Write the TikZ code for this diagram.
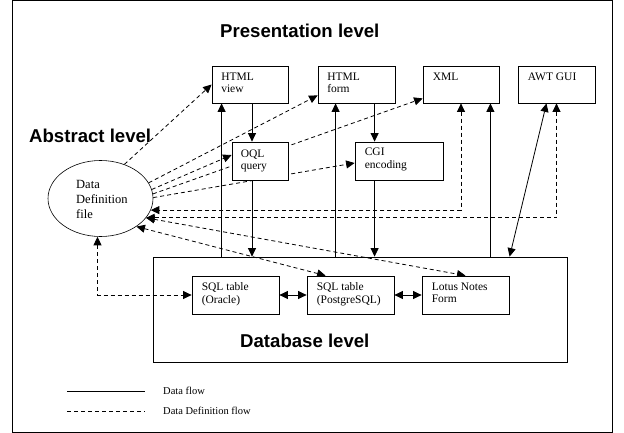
\documentclass[tikz,border=0pt]{standalone}
\usepackage{fontspec}
\setmainfont{Liberation Serif}
\newfontfamily\headfont{Liberation Sans}
\usetikzlibrary{arrows.meta,calc,shapes.geometric}
\pgfdeclarelayer{bg}
\pgfsetlayers{bg,main}
\tikzset{
  boxnode/.style={draw, fill=white, line width=0.8pt, inner sep=0pt},
  btxt/.style={anchor=north west, inner sep=0pt, align=left, font=\fontsize{11.5}{12.5}\selectfont},
  head/.style={anchor=base west, inner sep=0pt, font=\headfont\bfseries\fontsize{18.6}{20}\selectfont},
  conn/.style={line width=0.8pt},
  ddash/.style={line width=0.8pt, dash pattern=on 4pt off 3pt},
  arr/.style={-{Triangle[length=8.5pt,width=8pt]}},
  barr/.style={{Triangle[length=8.5pt,width=8pt]}-{Triangle[length=8.5pt,width=8pt]}},
}
\begin{document}
\begin{tikzpicture}[x=1pt,y=-1pt]
\useasboundingbox (0,0) rectangle (624,433);
\draw[line width=0.9pt] (12.5,0.5) rectangle (612,432);

% headings
\node[head] (hpres) at (220,38) {Presentation level};
\node[head] (habs) at (29,143) {Abstract level};
\node[head] (hdb) at (240,347) {Database level};

% boxes
\node[boxnode, minimum width=76pt, minimum height=37pt] (hv) at (250,84.5) {};
\node[boxnode, minimum width=77pt, minimum height=37pt] (hf) at (356.5,84.5) {};
\node[boxnode, minimum width=76pt, minimum height=37pt] (xml) at (461,84.5) {};
\node[boxnode, minimum width=77pt, minimum height=37pt] (awt) at (556.5,84.5) {};
\node[boxnode, minimum width=56pt, minimum height=38pt] (oql) at (260,161) {};
\node[boxnode, minimum width=88pt, minimum height=38pt] (cgi) at (399,161) {};
\node[draw, line width=0.8pt, inner sep=0pt, minimum width=414pt, minimum height=105pt] (db) at (360,309.5) {};
\node[boxnode, minimum width=87pt, minimum height=38pt] (or) at (235.5,295) {};
\node[boxnode, minimum width=87pt, minimum height=38pt] (pg) at (350.5,295) {};
\node[boxnode, minimum width=87pt, minimum height=38pt] (lo) at (465.5,295) {};
\node[draw, fill=white, ellipse, line width=0.6pt, inner sep=0pt, minimum width=105pt, minimum height=76pt] (dd) at (100.5,198.5) {};

% texts
\node[btxt] (thv) at ($(hv.north west)+(9.5,7)$) {HTML\\view};
\node[btxt] (thf) at ($(hf.north west)+(9.5,7)$) {HTML\\form};
\node[btxt] (txml) at ($(xml.north west)+(10,7)$) {XML};
\node[btxt] (tawt) at ($(awt.north west)+(10,7)$) {AWT GUI};
\node[btxt] (toql) at ($(oql.north west)+(9,8)$) {OQL\\query};
\node[btxt] (tcgi) at ($(cgi.north west)+(10,6.5)$) {CGI\\encoding};
\node[btxt] (tor) at ($(or.north west)+(10,7)$) {SQL table\\(Oracle)};
\node[btxt] (tpg) at ($(pg.north west)+(10,7)$) {SQL table\\(PostgreSQL)};
\node[btxt] (tlo) at ($(lo.north west)+(10,7)$) {Lotus Notes\\Form};
\node[btxt, font=\fontsize{12.5}{15}\selectfont] (tdd) at (76,180) {Data\\Definition\\file};

% legend
\coordinate (l1a) at (67,391);
\coordinate (l1b) at (145,391);
\coordinate (l2a) at (67,411);
\coordinate (l2b) at (145,411);
\draw[conn] (l1a) -- (l1b);
\draw[ddash] (l2a) -- (l2b);
\node[anchor=west, inner sep=0pt, font=\fontsize{10.5}{12}\selectfont] (lt1) at (163,391) {Data flow};
\node[anchor=west, inner sep=0pt, font=\fontsize{10.5}{12}\selectfont] (lt2) at (163,411) {Data Definition flow};

\begin{pgfonlayer}{bg}
% data definition flows from the ellipse
\draw[ddash, arr] (dd.55) -- (hv.west);
\draw[ddash, arr] (dd.18) -- ([yshift=8pt]hf.south west);
\draw[ddash, arr] (dd.10) -- ([yshift=6pt]oql.west);
\draw[ddash, arr] (dd.5) -- ([yshift=5pt]xml.south west);
\draw[ddash, arr] (dd.1) -- ([yshift=-2pt]cgi.west);
% returning definition flows
\draw[ddash, barr] (xml.south) -- (xml.south |- dd.-13) -- (dd.-13);
\draw[ddash, barr] (awt.south) -- (awt.south |- dd.-23) -- (dd.-23);
\draw[ddash, barr] (dd.-23) -- (lo.north);
\draw[ddash, barr] (dd.-38) -- ([xshift=19pt]pg.north west);
\draw[ddash, barr] ([xshift=-3pt]dd.south) |- (or.west);

% data flows
\draw[conn, arr] ([xshift=10pt]hv.south west |- db.north) -- ([xshift=10pt]hv.south west);
\draw[conn, arr] ([xshift=2pt]hv.south) -- ([xshift=2pt]hv.south |- oql.north);
\draw[conn, arr] ([xshift=2pt]hv.south |- oql.south) -- ([xshift=2pt]hv.south |- db.north);
\draw[conn, arr] ([xshift=18pt]hf.south west |- db.north) -- ([xshift=18pt]hf.south west);
\draw[conn, arr] ([xshift=20pt]cgi.north west |- hf.south) -- ([xshift=20pt]cgi.north west);
\draw[conn, arr] ([xshift=20pt]cgi.south west) -- ([xshift=20pt]cgi.south west |- db.north);
\draw[conn, arr] ([xshift=-9pt]xml.south east |- db.north) -- ([xshift=-9pt]xml.south east);
\draw[conn, barr] ([xshift=357pt]db.north west) -- ([xshift=-10pt]awt.south);
\draw[conn, barr] (or.east) -- (pg.west);
\draw[conn, barr] (pg.east) -- (lo.west);
\end{pgfonlayer}
\end{tikzpicture}
\end{document}
